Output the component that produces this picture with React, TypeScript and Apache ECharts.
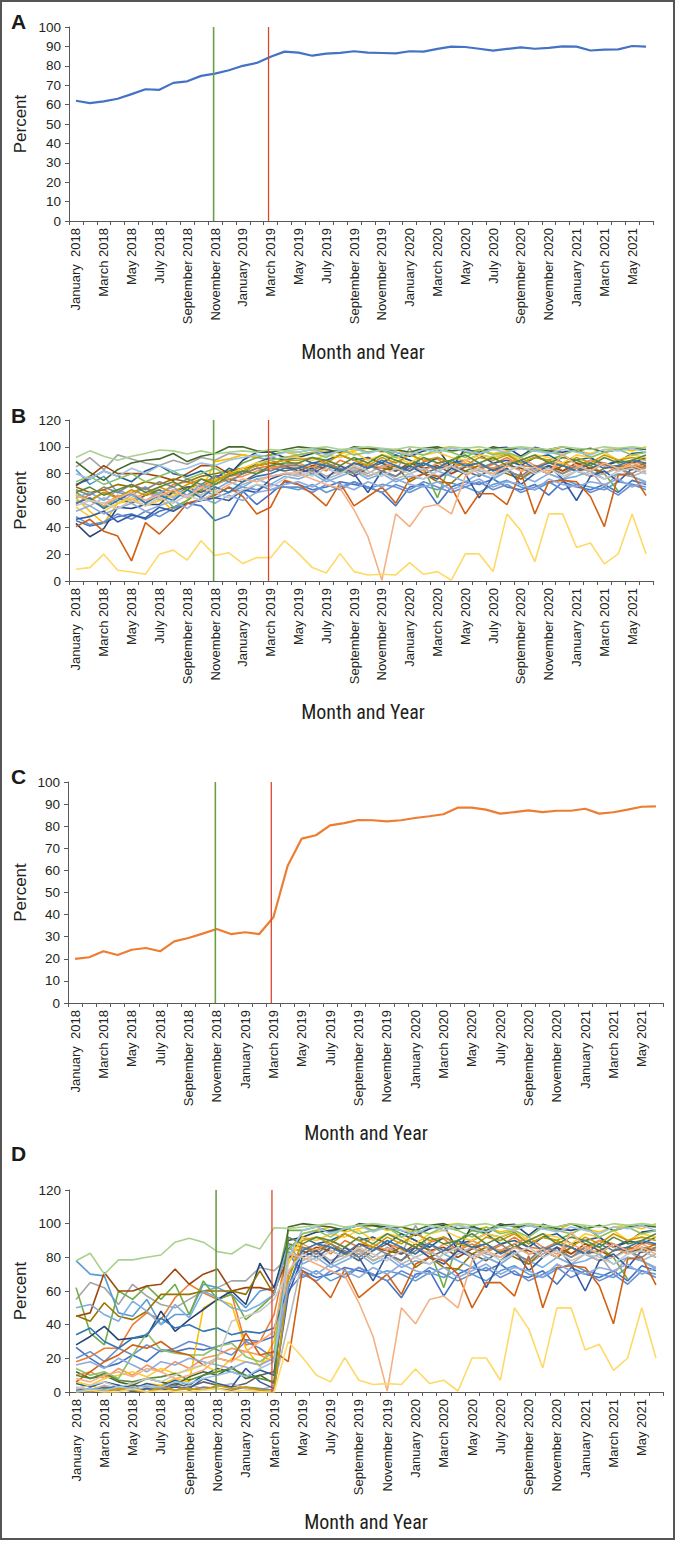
import React, { useEffect, useRef } from "react";
import * as echarts from "echarts";

const months: string[] = [
  "January  2018", "February 2018", "March 2018", "April 2018", "May 2018", "June 2018",
  "July 2018", "August 2018", "September 2018", "October 2018", "November 2018", "December 2018",
  "January 2019", "February 2019", "March 2019", "April 2019", "May 2019", "June 2019",
  "July 2019", "August 2019", "September 2019", "October 2019", "November 2019", "December 2019",
  "January 2020", "February 2020", "March 2020", "April 2020", "May 2020", "June 2020",
  "July 2020", "August 2020", "September 2020", "October 2020", "November 2020", "December 2020",
  "January 2021", "February 2021", "March 2021", "April 2021", "May 2021", "June 2021",
];

// Panel A: overall percent
const panelAValues: number[] = [
  62, 60.8, 61.7, 63, 65.4, 67.9, 67.6, 71.2, 72, 74.8, 76, 77.7, 80, 81.5, 84.7,
  87.3, 86.8, 85.2, 86.3, 86.7, 87.5, 86.8, 86.6, 86.4, 87.5, 87.3, 88.7, 89.9, 89.7,
  88.8, 87.8, 88.7, 89.5, 88.8, 89.2, 90, 89.9, 87.9, 88.3, 88.5, 90.2, 89.9,
];

// Panel C: overall percent
const panelCValues: number[] = [
  20, 20.7, 23.4, 21.7, 24.1, 24.9, 23.4, 27.9, 29.4, 31.4, 33.5, 31.2, 32, 31.2, 38.8,
  62, 74.4, 75.9, 80.4, 81.4, 82.8, 82.7, 82.2, 82.7, 83.7, 84.5, 85.4, 88.4, 88.4,
  87.5, 85.7, 86.4, 87.2, 86.4, 87, 87, 87.9, 85.7, 86.3, 87.5, 88.8, 89,
];

// Event markers (month position on a 0..42 month scale)
const eventMonths: number[] = [10.4, 14.35];
const eventColors: string[] = ["#6a9f46", "#e0452a"];

const siteColors: string[] = [
  "#4472c4", "#ed7d31", "#a5a5a5", "#ffc000", "#5b9bd5", "#70ad47", "#264478", "#9e480e",
  "#636363", "#997300", "#255e91", "#43682b", "#698ed0", "#f1975a", "#b7b7b7", "#ffcd33",
  "#7cafdd", "#8cc168", "#335aa1", "#d26012", "#848484", "#cc9a00", "#3276b1", "#5a8a39",
  "#8faadc", "#f4b183", "#c9c9c9", "#ffd966", "#9dc3e6", "#a9d18e",
];

// Panel B, January 2018 - April 2019, per site
const earlyB: number[][] = [
  [45, 41, 43, 48, 50, 46, 52, 55, 58, 56, 45, 49, 67, 57, 65, 74],
  [57, 65, 68, 62, 66, 70, 64, 72, 74, 70, 76, 78, 80, 84, 86, 84],
  [85, 92, 83, 94, 91, 88, 86, 90, 87, 92, 90, 95, 94, 92, 90, 86],
  [62, 52, 43, 58, 60, 56, 62, 52, 60, 67, 89, 91, 94, 92, 94, 96],
  [83, 72, 78, 66, 64, 70, 60, 66, 62, 68, 64, 70, 66, 72, 68, 70],
  [66, 60, 55, 62, 58, 64, 66, 55, 60, 68, 74, 80, 88, 92, 94, 96],
  [43, 33, 39, 55, 54, 57, 57, 67, 70, 71, 78, 79, 90, 96, 96, 92],
  [71, 78, 86, 80, 80, 80, 78, 75, 80, 86, 86, 80, 84, 86, 88, 86],
  [64, 60, 66, 62, 58, 64, 68, 62, 70, 66, 72, 76, 74, 80, 84, 82],
  [70, 66, 68, 72, 70, 74, 72, 76, 74, 78, 80, 82, 84, 86, 88, 90],
  [72, 76, 82, 78, 74, 82, 86, 80, 78, 82, 76, 84, 80, 88, 92, 90],
  [89, 81, 75, 83, 88, 90, 91, 95, 89, 93, 95, 100, 100, 97, 96, 98],
  [48, 42, 44, 50, 46, 52, 48, 54, 58, 60, 62, 66, 70, 68, 72, 70],
  [58, 62, 56, 64, 60, 66, 62, 68, 64, 70, 72, 76, 78, 82, 84, 86],
  [60, 56, 62, 58, 64, 60, 66, 62, 68, 64, 70, 66, 72, 76, 78, 80],
  [55, 48, 52, 58, 62, 56, 60, 64, 68, 72, 76, 80, 84, 88, 90, 92],
  [62, 66, 60, 68, 64, 58, 66, 70, 64, 72, 68, 74, 70, 76, 72, 78],
  [74, 78, 72, 76, 80, 74, 78, 82, 76, 80, 84, 78, 82, 86, 90, 92],
  [46, 48, 52, 44, 49, 47, 55, 52, 58, 60, 62, 60, 68, 66, 76, 80],
  [40.5, 46, 37, 33.5, 15, 43.5, 35, 45.5, 58, 61, 64, 70, 63, 50, 55, 75],
  [68, 64, 70, 66, 72, 68, 74, 70, 76, 72, 78, 74, 80, 84, 82, 86],
  [64, 60, 66, 62, 68, 64, 70, 66, 72, 76, 74, 80, 82, 86, 88, 90],
  [58, 62, 54, 60, 66, 58, 64, 60, 68, 62, 70, 66, 74, 78, 80, 84],
  [66, 70, 64, 68, 72, 66, 70, 74, 68, 76, 72, 78, 82, 80, 86, 88],
  [52, 56, 50, 54, 58, 52, 56, 60, 54, 62, 58, 64, 60, 66, 68, 72],
  [64, 60, 58, 62, 66, 60, 64, 68, 62, 70, 66, 72, 76, 74, 78, 80],
  [56, 60, 58, 54, 60, 56, 62, 58, 64, 60, 66, 62, 68, 72, 70, 76],
  [8.7, 10, 20, 8, 6.7, 5, 20, 23, 15.6, 30, 19, 21, 13, 17.4, 17.4, 30],
  [80, 76, 82, 78, 84, 80, 86, 82, 84, 88, 86, 90, 92, 94, 92, 96],
  [92, 97, 93, 90, 93, 95, 97.6, 97, 94.7, 97, 94.7, 96, 97, 96, 98, 97],
];

// Panel D, January 2018 - April 2019, per site
const earlyD: number[][] = [
  [26.5, 20, 14.6, 17, 22, 18, 25, 24, 26, 25, 27, 30, 31, 30, 33, 82],
  [18, 21, 26, 26, 40, 47, 43, 56, 64, 59, 55, 58, 28, 30, 46, 85],
  [55, 65, 62, 52, 64, 57, 52, 50, 55, 60, 62, 66, 66, 74, 72, 80],
  [2, 4, 1, 3, 2, 5, 4, 8, 6, 50, 55, 52, 26, 15, 30, 78],
  [78, 70, 69, 47, 45, 55, 40, 46, 46, 64, 62, 58, 50, 60, 62, 84],
  [62, 35, 28, 60, 55, 63, 55, 64, 46, 66, 55, 58, 43, 50, 58, 96],
  [28, 33, 39, 31, 32, 33, 48, 36, 43, 49, 55, 60, 52, 76.5, 62, 90],
  [45, 47, 71, 60, 60, 63, 64, 73, 64, 70, 73, 60, 62, 62, 60, 80],
  [2, 1, 3, 2, 4, 3, 2, 5, 3, 6, 4, 3, 5, 10, 12, 70],
  [45.5, 42, 53, 45, 43, 48, 58, 58, 58, 60, 60, 60, 58, 72, 58, 88],
  [5, 3, 6, 4, 2, 5, 3, 7, 4, 10, 14, 12, 9, 13, 10, 85],
  [12, 8, 10, 6, 4, 8, 6, 4, 9, 12, 10, 15, 8, 10, 5, 98],
  [20, 24, 18, 26, 22, 28, 24, 26, 30, 28, 25, 22, 30, 26, 20, 60],
  [10, 12, 8, 14, 10, 16, 12, 18, 14, 20, 22, 26, 24, 22, 18, 70],
  [3, 1, 4, 2, 0, 3, 2, 1, 4, 2, 3, 5, 2, 1, 4, 40],
  [6, 4, 8, 10, 12, 9, 14, 11, 13, 16, 12, 20, 18, 16, 22, 76],
  [50, 52, 46, 42, 54, 48, 40, 52, 44, 60, 56, 50, 48, 52, 58, 88],
  [14, 10, 12, 8, 22, 35, 25, 23, 22, 22, 27, 29, 21, 18, 24, 84],
  [0, 2, 1, 4, 0, 2, 1, 3, 2, 8, 5, 3, 14, 6, 2, 58],
  [6, 12, 18, 22, 28, 26, 30, 24, 22, 16, 20, 18, 35, 22, 24, 18],
  [1, 0, 2, 1, 3, 0, 2, 4, 1, 3, 2, 1, 3, 2, 1, 62],
  [0, 1, 0, 2, 1, 0, 3, 1, 2, 1, 4, 2, 3, 1, 0, 66],
  [34, 38, 30, 26, 32, 34, 44, 38, 40, 36, 38, 34, 36, 35, 38, 62],
  [10, 8, 11, 7, 6, 8, 9, 11, 7, 10, 12, 14, 10, 8, 6, 92],
  [16, 18, 14, 20, 16, 12, 18, 16, 20, 18, 16, 14, 18, 16, 20, 64],
  [8, 6, 10, 12, 9, 14, 12, 8, 10, 13, 20, 18, 24, 30, 36, 82],
  [2, 4, 6, 3, 5, 8, 6, 10, 14, 16, 20, 42, 45, 48, 55, 72],
  [0, 1, 0, 0, 2, 0, 1, 0, 0, 1, 2, 0, 1, 0, 0, 30],
  [0, 2, 1, 3, 2, 4, 3, 6, 5, 8, 10, 12, 9, 14, 18, 80],
  [78, 82.4, 70, 78.5, 78.5, 80, 81.4, 89, 91.3, 89, 83.4, 82, 87.7, 85, 97.6, 97.2],
];

// Panels B and D share May 2019 - June 2021, per site
const lateShared: (number | null)[][] = [
  [72, 68, 70, 74, 72, 70, 66, 56, 70, 72, 57, 70, 74, 72, 76, 70, 68, 72, 64, 74, 70, 68, 72, 66, 75, 72],
  [84, 88, 82, 90, 86, 92, 88, 85, 82, 89, 91, 84, 88, 83, 87, 92, 86, 85, 89, 82, 86, 90, 88, 84, 89, 87],
  [80, 84, 78, 82, 85, 80, 86, 82, 99, 84, 78, 80, 86, 82, 80, 84, 76, 82, 86, 80, 84, 82, 70, 80, 78, 73],
  [94, 96, 98, 95, 97, 99, 96, 98, 94, 97, 99, 100, 96, 98, 95, 97, 99, 98, 96, 100, 97, 95, 98, 99, 97, 100],
  [68, 72, 66, 70, 74, 69, 72, 70, 66, 71, 68, 73, 70, 66, 72, 75, 70, 68, 73, 76, 72, 70, 68, 74, 72, 70],
  [96, 98, 95, 97, 99, 96, 98, 94, 90, 84, 62, 90, 96, 94, 92, 95, 88, 92, 90, 94, 88, 86, 80, 67, null, null],
  [92, 95, 96, 97, 99, 99, 98, 96, 93, 97, 99, 84, 99, 94, 99, 99.6, 93, 99.6, 97, 96, 98, 92, 86, 89, 95, 96],
  [82, 86, 84, 80, 88, 86, 84, 82, 88, 84, 86, 80, 85, 88, 83, 86, 84, 80, 86, 82, 88, 84, 80, 85, 83, 86],
  [84, 80, 86, 83, 78, 84, 88, 82, 86, 80, 84, 86, 82, 78, 84, 88, 82, 84, 80, 86, 82, 84, 88, 82, 86, 84],
  [86, 84, 88, 82, 84, 78, 82, 86, 74, 80, 74, 73, 82, 86, 84, 80, 76, 84, 80, 86, 82, 78, 84, 86, 84, 88],
  [92, 88, 90, 94, 90, 92, 88, 94, 90, 86, 92, 88, 90, 94, 88, 90, 86, 92, 94, 88, 90, 92, 86, 90, 88, 92],
  [100, 99, 98, 96, 100, 99, 97, 98, 96, 99, 100, 97, 98, 96, 100, 98, 99, 97, 98, 100, 97, 99, 96, 98, 99, 98],
  [70, 66, 72, 68, 74, 70, 66, 72, 68, 74, 70, 66, 70, 74, 68, 72, 66, 70, 74, 68, 72, 66, 70, 64, 72, 68],
  [88, 84, 90, 86, 82, 88, 84, 90, 86, 82, 88, 84, 90, 86, 84, 88, 92, 86, 82, 88, 84, 90, 86, 82, 88, 84],
  [78, 82, 76, 80, 84, 78, 82, 76, 80, 84, 78, 82, 86, 80, 76, 82, 78, 84, 80, 76, 82, 78, 80, 84, 78, 82],
  [92, 90, 94, 92, 96, 90, 94, 92, 88, 94, 96, 92, 90, 94, 92, 96, 90, 94, 92, 88, 94, 92, 96, 90, 94, 92],
  [76, 80, 74, 78, 82, 76, 80, 74, 78, 76, 82, 78, 74, 80, 76, 82, 78, 74, 80, 76, 78, 82, 76, 80, 78, 74],
  [94, 96, 92, 98, 94, 96, 98, 92, 96, 94, 98, 96, 92, 98, 94, 96, 92, 98, 96, 94, 98, 92, 96, 98, 94, 96],
  [80, 84, 76, 86, 80, 66, 82, 78, 86, 80, 76, 84, 80, 62, 78, 84, 72, 80, 86, 76, 60, 78, 82, 74, 84, 80],
  [72, 65, 56, 73, 56, 63, 70, 58, 76, 80, 78, 70, 50, 65, 65, 57, 81, 50, 74, 75, 74, 63, 40.5, 79, 80, 63.6],
  [86, 82, 88, 84, 80, 86, 82, 78, 84, 88, 82, 86, 80, 84, 88, 82, 78, 86, 84, 80, 86, 82, 88, 84, 80, 86],
  [90, 92, 88, 94, 90, 86, 92, 88, 94, 90, 92, 88, 86, 92, 90, 94, 88, 92, 90, 86, 92, 88, 94, 90, 92, 90],
  [84, 88, 86, 82, 88, 84, 90, 86, 82, 88, 84, 90, 86, 88, 82, 86, 90, 84, 88, 86, 82, 88, 84, 86, 90, 88],
  [88, 92, 90, 86, 92, 88, 94, 90, 86, 92, 88, 90, 94, 88, 92, 86, 90, 94, 88, 92, 90, 86, 92, 88, 90, 94],
  [74, 70, 76, 72, 68, 74, 70, 76, 72, 70, 74, 68, 72, 76, 70, 74, 72, 68, 76, 72, 70, 74, 72, 76, 70, 74],
  [80, 76, 72, 69, 53, 33, 0.5, 50, 40.5, 55, 57, 50, 78, 84, 80, 86, 82, 85, 80, 95, 86, 82, 88, 84, 86, 82],
  [82, 78, 84, 80, 86, 82, 78, 84, 80, 76, 82, 86, 80, 84, 78, 82, 86, 80, 84, 78, 82, 80, 76, 82, 84, 80],
  [20.6, 10, 6, 20.4, 7, 4.5, 5, 4.5, 13.7, 5, 7, 0.6, 20.2, 20.2, 7, 50, 37.5, 14.3, 50, 50, 25, 28.3, 12.8, 20.2, 50, 20.2],
  [96, 98, 94, 97, 99, 95, 98, 96, 94, 98, 96, 99, 97, 95, 98, 96, 99, 97, 95, 98, 96, 94, 98, 97, 99, 96],
  [98, 99, 100, 98, 99, 100, 99, 98, 100, 99, 98, 100, 99, 100, 98, 99, 100, 99, 98, 100, 99, 98, 100, 99, 100, 99],
];

const panelLetters: string[] = ["A", "B", "C", "D"];
const yMaxes: number[] = [100, 120, 100, 120];
const yIntervals: number[] = [10, 20, 10, 20];

// layout (pixels)
const layout = [
  { left: 69, top: 27, width: 584, height: 194, letterY: 21, titleY: 352, titleX: 363 },
  { left: 69, top: 420, width: 584, height: 161, letterY: 415, titleY: 712, titleX: 363 },
  { left: 68, top: 782, width: 595, height: 221, letterY: 776, titleY: 1133, titleX: 366 },
  { left: 69, top: 1190, width: 594, height: 202, letterY: 1153, titleY: 1522, titleX: 366 },
];

const TEXT = "#231f20";
const AXIS = "#595959";
const FONT = "'Liberation Sans', Arial, sans-serif";
const NARROW = "'Liberation Sans Narrow', 'Arial Narrow', 'Roboto Condensed', sans-serif";

function buildOption() {
  const grid: any[] = [];
  const xAxis: any[] = [];
  const yAxis: any[] = [];
  const series: any[] = [];
  const graphic: any[] = [];

  layout.forEach((L, i) => {
    grid.push({ left: L.left, top: L.top, width: L.width, height: L.height, containLabel: false });
    xAxis.push({
      type: "category",
      gridIndex: i,
      data: months,
      boundaryGap: true,
      axisLine: { show: true, lineStyle: { color: AXIS, width: 1 } },
      axisTick: { show: true, interval: 0, length: 4, lineStyle: { color: AXIS } },
      axisLabel: {
        interval: 1,
        rotate: 90,
        fontSize: 13,
        fontFamily: FONT,
        color: TEXT,
        margin: 7,
      },
      splitLine: { show: false },
    });
    xAxis.push({
      type: "value",
      gridIndex: i,
      min: 0,
      max: 42,
      show: false,
      splitLine: { show: false },
    });
    yAxis.push({
      type: "value",
      gridIndex: i,
      min: 0,
      max: yMaxes[i],
      interval: yIntervals[i],
      axisLine: { show: true, lineStyle: { color: AXIS, width: 1 } },
      axisTick: { show: true, length: 4, lineStyle: { color: AXIS } },
      axisLabel: { fontSize: 13.5, fontFamily: FONT, color: TEXT, margin: 8 },
      splitLine: { show: false },
    });

    graphic.push({
      type: "text",
      x: 11,
      y: L.letterY,
      style: {
        text: panelLetters[i],
        fontSize: 21,
        fontWeight: "bold",
        fontFamily: FONT,
        fill: "#1a1a1a",
        align: "left",
        verticalAlign: "middle",
        textAlign: "left",
        textVerticalAlign: "middle",
      },
    });
    graphic.push({
      type: "text",
      x: 20,
      y: L.top + L.height / 2,
      rotation: Math.PI / 2,
      style: {
        text: "Percent",
        fontSize: 17,
        fontFamily: FONT,
        fill: TEXT,
        align: "center",
        verticalAlign: "middle",
        textAlign: "center",
        textVerticalAlign: "middle",
      },
    });
    graphic.push({
      type: "text",
      x: L.titleX,
      y: L.titleY,
      style: {
        text: "Month and Year",
        fontSize: 20,
        fontFamily: NARROW,
        fill: TEXT,
        align: "center",
        verticalAlign: "middle",
        textAlign: "center",
        textVerticalAlign: "middle",
      },
    });
  });

  const baseLine = { type: "line", symbol: "none", silent: true, animation: false, connectNulls: false };

  // Panel A
  series.push({ ...baseLine, xAxisIndex: 0, yAxisIndex: 0, data: panelAValues, lineStyle: { color: "#4472c4", width: 2.2 }, z: 3 });
  // Panel B
  siteColors.forEach((c, k) => {
    series.push({ ...baseLine, xAxisIndex: 2, yAxisIndex: 1, data: [...earlyB[k], ...lateShared[k]], lineStyle: { color: c, width: 1.6 }, z: 3 });
  });
  // Panel C
  series.push({ ...baseLine, xAxisIndex: 4, yAxisIndex: 2, data: panelCValues, lineStyle: { color: "#ed7d31", width: 2.2 }, z: 3 });
  // Panel D
  siteColors.forEach((c, k) => {
    series.push({ ...baseLine, xAxisIndex: 6, yAxisIndex: 3, data: [...earlyD[k], ...lateShared[k]], lineStyle: { color: c, width: 1.6 }, z: 3 });
  });

  // Event lines
  for (let i = 0; i < 4; i++) {
    eventMonths.forEach((m, j) => {
      series.push({
        ...baseLine,
        xAxisIndex: 2 * i + 1,
        yAxisIndex: i,
        data: [[m, 0], [m, yMaxes[i]]],
        lineStyle: { color: eventColors[j], width: j === 0 ? 1.6 : 1.3 },
        z: 4,
      });
    });
  }

  graphic.push({
    type: "rect",
    shape: { x: 1, y: 1, width: 673, height: 1538 },
    style: { fill: "none", stroke: "#555555", lineWidth: 2 },
    silent: true,
    z: 100,
  });

  return {
    animation: false,
    backgroundColor: "#ffffff",
    grid,
    xAxis,
    yAxis,
    series,
    graphic,
  };
}

export default function App() {
  const ref = useRef<HTMLDivElement>(null);
  useEffect(() => {
    if (!ref.current) return;
    const chart = echarts.init(ref.current, undefined, { renderer: "svg" });
    chart.setOption(buildOption() as any);
    return () => chart.dispose();
  }, []);
  return (
    <div
      ref={ref}
      style={{ position: "absolute", left: 0, top: 0, width: 676, height: 1541, background: "#fff" }}
    />
  );
}
